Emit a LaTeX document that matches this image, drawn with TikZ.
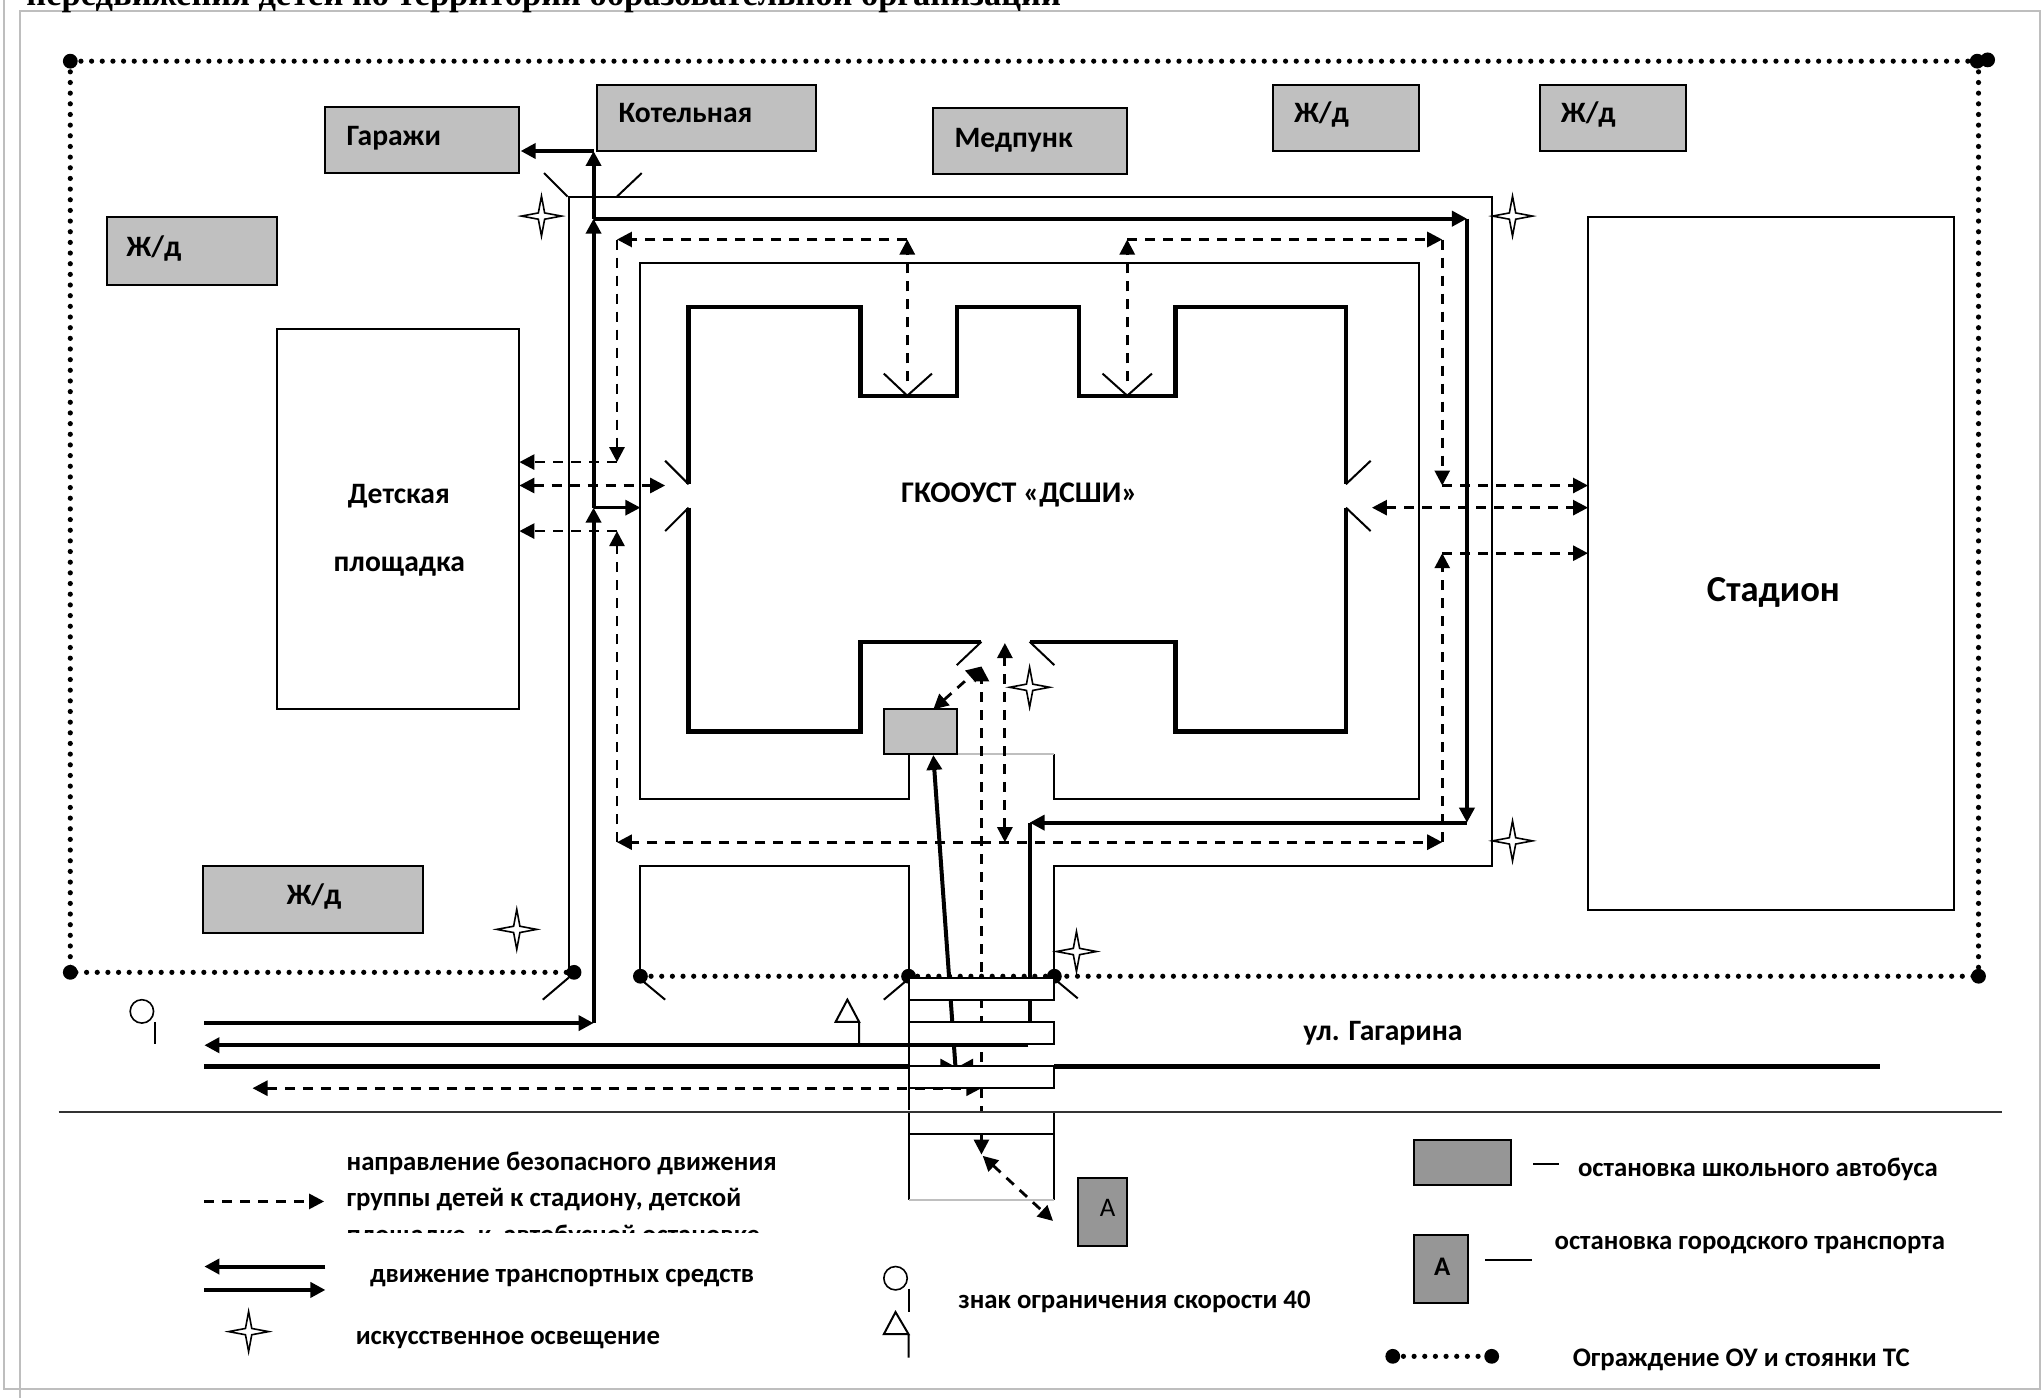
\documentclass[tikz,border=0pt]{standalone}
\usepackage{xcolor}
\usepackage{fontspec}
\setmainfont{Carlito}
\newfontfamily\titlefont{Liberation Serif}
\usetikzlibrary{shapes.geometric, arrows.meta}
\definecolor{bldgray}{RGB}{192, 192, 192}
\definecolor{stopgray}{RGB}{150, 150, 150}
\definecolor{framegray}{RGB}{190, 190, 190}

\begin{document}
\begin{tikzpicture}[
    x=0.6508pt, y=-0.6508pt,
    bld/.style={draw=black, line width=1pt, fill=bldgray},
    stopbox/.style={draw=black, line width=1pt, fill=stopgray},
    plain/.style={draw=black, line width=1pt},
    wall/.style={draw=black, line width=2.2pt},
    road/.style={draw=black, line width=2pt},
    roadarrow/.style={road, -{Triangle[length=7.5pt,width=7.5pt]}},
    path1/.style={draw=black, line width=1.4pt, dash pattern=on 5pt off 4pt},
    patharrow/.style={path1, -{Triangle[length=7.5pt,width=7.5pt]}},
    pathboth/.style={path1, {Triangle[length=7.5pt,width=7.5pt]}-{Triangle[length=7.5pt,width=7.5pt]}},
    fence/.style={draw=black, line width=2.6pt, line cap=round, dash pattern=on 0pt off 5.33pt},
    post/.style={circle, fill=black, inner sep=0pt, minimum size=7.4pt},
    lamp/.style={star, star points=4, star point ratio=4.5, draw=black, fill=white,
                 line width=0.8pt, inner sep=0pt, minimum size=20pt},
    label/.style={anchor=base west, inner sep=0pt, font=\fontsize{13.4}{16}\selectfont\bfseries},
    bigger/.style={label, font=\fontsize{14.8}{16}\selectfont\bfseries},
    sign/.style={circle, draw=black, fill=white, line width=0.8pt, inner sep=0pt, minimum size=11.7pt}
]
    \useasboundingbox (0,0) rectangle (1568,1074);

    % page frame
    \draw[framegray, line width=1pt] (15,1074) -- (15,8.5) -- (1567,8.5) -- (1567,1067) -- (3,1067) -- (3,0);
    \node[anchor=base west, inner sep=0pt, font=\titlefont\fontsize{17.25}{20}\selectfont\bfseries] (title) at (20,4)
        {передвижения детей по территории образовательной организации};

    % fence
    \draw[fence] (54,47) -- (1525,47);
    \draw[fence] (1520,47) -- (1520,750);
    \draw[fence] (54,47) -- (54,747) -- (441,747);
    \draw[fence] (492,750) -- (1520,750);
    \foreach \px/\py in {54/47, 1519/47, 1527/46, 54/747, 441/747, 492/750, 698/750, 810/750, 1520/750}
        \node[post] at (\px,\py) {};

    % buildings
    \draw[bld] (250,82) rectangle (399,133);
    \draw[bld] (459,65) rectangle (627,116);
    \draw[bld] (717,83) rectangle (866,134);
    \draw[bld] (978,65) rectangle (1090,116);
    \draw[bld] (1183,65) rectangle (1295,116);
    \draw[bld] (82,167) rectangle (213,219);
    \draw[bld] (156,665) rectangle (325,717);
    \draw[plain] (213,253) rectangle (399,545);
    \draw[plain] (1220,167) rectangle (1501,699);
    \node[bigger] (garage) at (266,112) {Гаражи};
    \node[bigger] (boiler) at (475,94) {Котельная};
    \node[bigger] (medic) at (733,113) {Медпунк};
    \node[bigger] (dorm1) at (994,94) {Ж/д};
    \node[bigger] (dorm2) at (1199,94) {Ж/д};
    \node[bigger] (dorm3) at (97,197) {Ж/д};
    \node[bigger] (dorm4) at (220,695) {Ж/д};
    \node[bigger] (play1) at (267,387) {Детская};
    \node[bigger] (play2) at (256,439) {площадка};
    \node[label, font=\fontsize{18.3}{20}\selectfont\bfseries] (stadium) at (1311,462) {Стадион};
    \node[label, font=\fontsize{15}{16}\selectfont\bfseries] (school) at (692,386) {ГКООУСТ «ДСШИ»};

    % school walls
    \draw[wall] (529,372) -- (529,236) -- (661,236) -- (661,304) -- (735,304) -- (735,236)
        -- (829,236) -- (829,304) -- (903,304) -- (903,236) -- (1034,236) -- (1034,372);
    \draw[wall] (529,390) -- (529,562) -- (661,562) -- (661,493) -- (754,493);
    \draw[wall] (1034,390) -- (1034,562) -- (903,562) -- (903,493) -- (791,493);

    % doors and gates
    \draw[plain] (529,372) -- (511,354) (529,390) -- (511,408)
        (1034,372) -- (1053,354) (1034,390) -- (1053,408)
        (754,493) -- (735,511) (791,493) -- (810,511)
        (697,304) -- (679,287) (697,304) -- (716,287)
        (866,304) -- (847,287) (866,304) -- (885,287)
        (436,151) -- (418,133) (474,151) -- (493,133)
        (437,751) -- (417,768) (493,753) -- (511,768)
        (698,752) -- (679,768) (810,752) -- (828,767);

    % driveway edges
    \draw[plain] (437,747) -- (437,151) -- (1146,151) -- (1146,665) -- (810,665) -- (810,750);
    \draw[plain] (698,579) -- (698,614) -- (492,614) -- (492,202) -- (1090,202) -- (1090,614)
        -- (810,614) -- (810,579);
    \draw[gray!50, line width=0.9pt] (735,579) -- (810,579);
    \draw[plain] (492,750) -- (492,665) -- (698,665) -- (698,853);

    % traffic
    \draw[roadarrow] (157,786) -- (456,786);
    \draw[roadarrow] (456,786) -- (456,390);
    \draw[roadarrow] (456,390) -- (456,168);
    \draw[roadarrow] (456,168) -- (456,116);
    \draw[roadarrow] (456,116) -- (400,116);
    \draw[roadarrow] (456,168) -- (1127,168);
    \draw[roadarrow] (1127,168) -- (1127,632);
    \draw[roadarrow] (1127,632) -- (791,632);
    \draw[road] (791,632) -- (791,803);
    \draw[road, line width=1.5pt, -{Triangle[length=7.5pt,width=7.5pt]}] (456,390) -- (492,390);
    \draw[roadarrow] (734,819) -- (717,580);
    \draw[roadarrow] (157,819.5) -- (734,819.5);
    \draw[roadarrow] (1444,819.5) -- (736,819.5);
    \draw[path1] (754,871) -- (754,520);
    \draw[pathboth] (194,836) -- (754,836);

    % crossings
    \foreach \ya/\yb in {751/768, 785/802, 819/836, 854/871}
        \draw[plain, fill=white] (698,\ya) rectangle (810,\yb);
    \draw[plain] (698,871) -- (698,922) (810,871) -- (810,922);
    \draw[gray!50, line width=1pt] (698,922) -- (810,922);

    % street
    \draw[roadarrow] (790,803) -- (157,803);
    \draw[road] (157,819) -- (698,819) (810,819) -- (1444,819);
    \draw[draw=black!80, line width=1pt] (45,854) -- (1538,854);

    % children routes
    \draw[patharrow] (697,293) -- (697,184);
    \draw[patharrow] (697,184) -- (474,184);
    \draw[patharrow] (474,184) -- (474,355);
    \draw[patharrow] (474,355) -- (399,355);
    \draw[pathboth] (399,373) -- (511,373);
    \draw[patharrow] (474,408) -- (399,408);
    \draw[patharrow] (474,647) -- (474,408);
    \draw[patharrow] (754,647) -- (474,647);
    \draw[patharrow] (866,293) -- (866,184);
    \draw[patharrow] (866,184) -- (1108,184);
    \draw[patharrow] (1108,184) -- (1108,373);
    \draw[patharrow] (1108,373) -- (1220,373);
    \draw[pathboth] (1054,390) -- (1220,390);
    \draw[patharrow] (1108,425) -- (1220,425);
    \draw[patharrow] (1108,647) -- (1108,425);
    \draw[patharrow] (754,647) -- (1108,647);
    \draw[pathboth] (772,647) -- (772,494);
    \draw[pathboth] (717,545) -- (754,512);
    \draw[patharrow] (754,523) -- (754,512);
    \draw[patharrow] (754,871) -- (754,887);
    \draw[pathboth] (755,888) -- (809,938);

    % bus stops
    \draw[bld] (679,545) rectangle (735,579);
    \draw[stopbox] (828,905) rectangle (866,957);
    \node[font=\fontsize{13.4}{16}\selectfont] (stopa) at (851,928) {А};

    % lights
    \foreach \lx/\ly/\lname in {416/166/l1, 1162/166/l2, 1162/646/l3, 791/528/l4, 397/714/l5, 827/731/l6, 191/1023/l7}
        \node[lamp] (\lname) at (\lx,\ly) {};

    % speed signs
    \node[sign] (sign1) at (109,777) {};
    \draw[plain] (119,785) -- (119,802);
    \draw[plain] (660,785) -- (660,803) (660,785) -- (642,785) -- (651,768) -- cycle;
    \node[sign] (sign2) at (688,982) {};
    \draw[plain] (698,990) -- (698,1008);
    \draw[plain] (698,1025) -- (698,1043) (698,1025) -- (679,1025) -- (688,1008) -- cycle;

    % street name
    \node[bigger] (street) at (1001,799) {ул. Гагарина};

    % legend
    \node[label] (leg1) at (266,899) {направление безопасного движения};
    \node[label] (leg2) at (266,927) {группы детей к стадиону, детской};
    \node[label] (leg3) at (266,955) {площадке\ \ к\ \ автобусной остановке};
    \fill[white] (255,947) rectangle (610,965);
    \draw[patharrow] (157,923) -- (249,923);
    \draw[roadarrow] (250,973) -- (157,973);
    \draw[roadarrow] (157,991) -- (250,991);
    \node[label] (leg4) at (284,985) {движение транспортных средств};
    \node[label] (leg5) at (273,1033) {искусственное освещение};
    \node[label] (leg6) at (736,1005) {знак ограничения скорости 40};
    \draw[stopbox] (1086,876) rectangle (1161,910);
    \draw[plain] (1178,894) -- (1198,894);
    \node[label] (leg7) at (1212,904) {остановка школьного автобуса};
    \draw[stopbox] (1086,949) rectangle (1128,1001);
    \node[font=\fontsize{13.4}{16}\selectfont\bfseries] (stopb) at (1108,973) {А};
    \draw[plain] (1141,968) -- (1177,968);
    \node[label] (leg8) at (1194,960) {остановка городского транспорта};
    \draw[fence] (1070,1042) -- (1146,1042);
    \node[post] at (1070,1042) {};
    \node[post] at (1146,1042) {};
    \node[label] (leg9) at (1208,1050) {Ограждение ОУ и стоянки ТС};
\end{tikzpicture}
\end{document}
